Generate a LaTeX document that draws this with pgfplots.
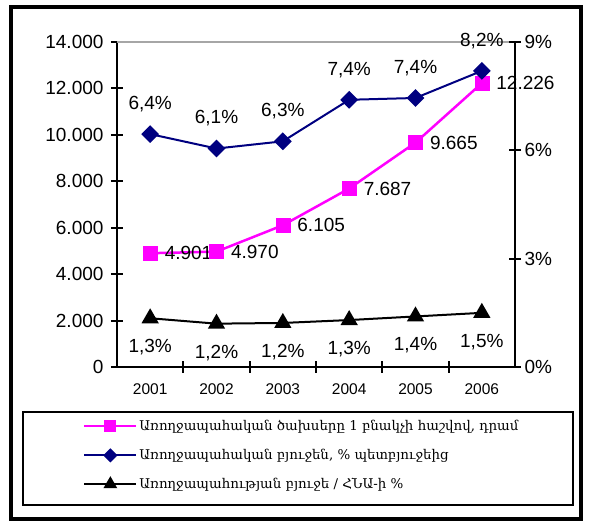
\documentclass[border=0pt]{standalone}
\usepackage{pgfplots}
\pgfplotsset{compat=1.18}
\usepackage{fontspec}
\setmainfont{Liberation Sans}
\newfontfamily\armfont{DejaVu Serif}
\definecolor{pinkline}{RGB}{255,0,255}
\definecolor{navyline}{RGB}{0,0,128}

\tikzset{lbl/.style={font=\fontsize{19}{21}\selectfont, text=black}}
\pgfplotsset{
  common/.style={
    at={(117pt,158pt)}, anchor=south west,
    width=398pt, height=325pt, scale only axis,
    xmin=-0.5, xmax=5.5,
    axis line style={line width=2pt, -},
    tick align=center,
    major tick length=12pt, minor tick length=12pt,
    every tick/.style={black, line width=2pt},
    ticklabel style={font=\fontsize{19}{21}\selectfont},
    /pgf/number format/assume math mode=true,
    clip=false,
  },
}

\begin{document}
\begin{tikzpicture}[x=1pt,y=1pt]
\useasboundingbox (0,0) rectangle (592,525);
\draw[line width=4pt] (11,6) rectangle (581,518);
\draw[line width=2pt] (23,20) rectangle (573,113);

% left axis: expenditure per capita, dram
\begin{axis}[common,
  ymin=0, ymax=14000,
  axis x line*=bottom, axis y line*=left,
  xtick={0,...,5}, xticklabels={2001,2002,2003,2004,2005,2006},
  major x tick style={draw=none},
  minor xtick={0.5,1.5,2.5,3.5,4.5},
  xticklabel style={font=\fontsize{15.5}{17}\selectfont, yshift=-7pt},
  ytick={0,2000,...,14000},
  scaled y ticks=false,
  yticklabel style={xshift=-4pt, /pgf/number format/.cd, 1000 sep={.}},
]
\draw[gray!70, line width=2pt] (rel axis cs:0,1) -- (rel axis cs:1,1);
\addplot[pinkline, line width=2.5pt, mark=square*, mark size=7pt,
  mark options={solid, line width=0.5pt},
  nodes near coords, point meta=explicit symbolic,
  every node near coord/.style={lbl, anchor=west, xshift=11pt}]
coordinates {
  (0,4901) [4.901]
  (1,4970) [4.970]
  (2,6105) [6.105]
  (3,7687) [7.687]
  (4,9665) [9.665]
  (5,12226) [12.226]
};
\end{axis}

% right axis: percent
\begin{axis}[common,
  ymin=0, ymax=9,
  axis x line=none, axis y line*=right,
  ytick={0,3,6,9}, yticklabels={0\%,3\%,6\%,9\%},
  legend style={at={(axis description cs:-0.085,-0.158)}, anchor=north west,
    draw=none, fill=none, font=\armfont\fontsize{13.4}{15}\selectfont,
    row sep=13pt, inner sep=0pt},
  legend cell align=left,
  legend image code/.code={\draw[mark repeat=2,mark phase=2] plot coordinates {(0pt,0pt) (26pt,0pt) (52pt,0pt)};},
]
\addlegendimage{pinkline, line width=2pt, mark=square*, mark size=5pt, mark options={solid}}
\addlegendentry{Առողջապահական ծախսերը 1 բնակչի հաշվով, դրամ}
\addlegendimage{navyline, line width=2pt, mark=square*, mark size=4pt, mark options={solid, rotate=45}}
\addlegendentry{Առողջապահական բյուջեն, \% պետբյուջեից}
\addlegendimage{black, line width=2pt, mark=triangle*, mark size=6pt, mark options={solid}}
\addlegendentry{Առողջապահության բյուջե / ՀՆԱ-ի \%}

\addplot[forget plot, navyline, line width=2pt, mark=square*, mark size=5.3pt,
  mark options={solid, rotate=45},
  nodes near coords, point meta=explicit symbolic,
  every node near coord/.style={lbl, anchor=center, yshift=30pt}]
coordinates {
  (0,6.45) [6,4\%]
  (1,6.05) [6,1\%]
  (2,6.25) [6,3\%]
  (3,7.40) [7,4\%]
  (4,7.45) [7,4\%]
  (5,8.20) [8,2\%]
};
\addplot[forget plot, black, line width=2pt, mark=triangle*, mark size=8pt,
  mark options={solid},
  nodes near coords, point meta=explicit symbolic,
  every node near coord/.style={lbl, anchor=center, yshift=-29pt}]
coordinates {
  (0,1.35) [1,3\%]
  (1,1.20) [1,2\%]
  (2,1.22) [1,2\%]
  (3,1.30) [1,3\%]
  (4,1.40) [1,4\%]
  (5,1.50) [1,5\%]
};
\end{axis}
\end{tikzpicture}
\end{document}
